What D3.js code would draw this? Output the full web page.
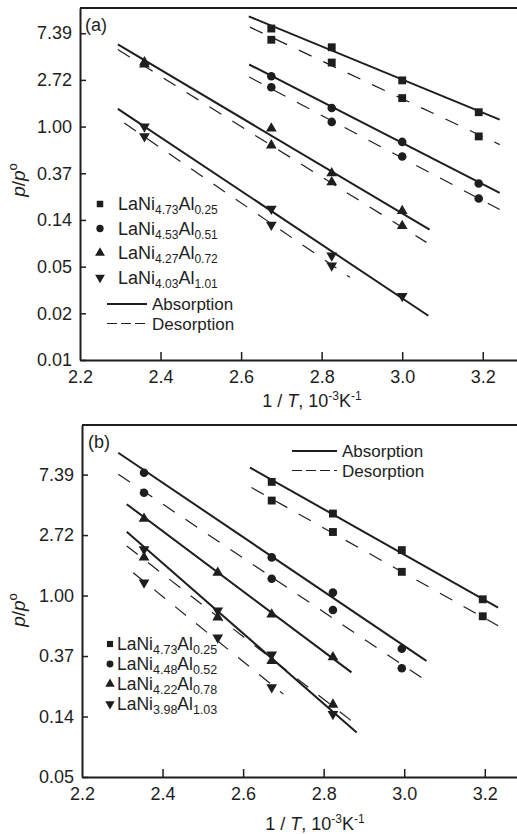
<!DOCTYPE html>
<html>
<head>
<meta charset="utf-8">
<script src="https://cdn.jsdelivr.net/npm/d3@7"></script>
<style>
  body { margin: 0; background: #fff; }
  svg { display: block; font-family: "Liberation Sans", Arial, sans-serif; }
</style>
</head>
<body>
<svg id="chart" width="517" height="834"></svg>
<script>
// tick positions: y ticks sit at e^k, labelled with rounded values
const yTickPowers = [2, 1, 0, -1, -2, -3, -4, -5];
const yTickLabels = ["7.39", "2.72", "1.00", "0.37", "0.14", "0.05", "0.02", "0.01"];
const xTicks = [2.2, 2.4, 2.6, 2.8, 3.0, 3.2];

// panel (a): points are [1/T, p/p°]
const alloysA = ["LaNi4.73Al0.25", "LaNi4.53Al0.51", "LaNi4.27Al0.72", "LaNi4.03Al1.01"];
const absA = [
  [[2.675, 8.17], [2.825, 5.47], [3.0, 2.69], [3.19, 1.36]],
  [[2.675, 2.94], [2.825, 1.49], [3.0, 0.72], [3.19, 0.295]],
  [[2.36, 3.97], [2.675, 0.96], [2.825, 0.368], [3.0, 0.164]],
  [[2.36, 1.0], [2.675, 0.172], [2.825, 0.063], [3.0, 0.0265]]
];
const desA = [
  [[2.675, 6.42], [2.825, 3.94], [3.0, 1.84], [3.19, 0.81]],
  [[2.675, 2.32], [2.825, 1.105], [3.0, 0.527], [3.19, 0.214]],
  [[2.36, 3.78], [2.675, 0.67], [2.825, 0.304], [3.0, 0.119]],
  [[2.36, 0.81], [2.675, 0.122], [2.825, 0.051]]
];
// fitted lines: [x0, y0, x1, y1]
const absFitA = [
  [2.619, 10.6, 3.242, 1.16],
  [2.62, 3.78, 3.242, 0.242],
  [2.294, 5.81, 3.068, 0.110],
  [2.294, 1.46, 3.065, 0.0174]
];
const desFitA = [
  [2.622, 8.41, 3.242, 0.68],
  [2.62, 2.89, 3.242, 0.169],
  [2.294, 5.21, 3.06, 0.0837],
  [2.31, 1.08, 2.87, 0.0396]
];

// panel (b)
const alloysB = ["LaNi4.73Al0.25", "LaNi4.48Al0.52", "LaNi4.22Al0.78", "LaNi3.98Al1.03"];
const absB = [
  [[2.671, 6.55], [2.823, 3.88], [2.994, 2.12], [3.195, 0.94]],
  [[2.354, 7.61], [2.671, 1.88], [2.823, 1.05], [2.994, 0.415]],
  [[2.354, 3.56], [2.537, 1.46], [2.671, 0.733], [2.823, 0.361]],
  [[2.354, 2.15], [2.537, 0.779], [2.671, 0.377], [2.823, 0.141]]
];
const desB = [
  [[2.671, 4.81], [2.823, 2.86], [2.994, 1.48], [3.195, 0.71]],
  [[2.354, 5.47], [2.671, 1.32], [2.823, 0.787], [2.994, 0.301]],
  [[2.354, 1.88], [2.537, 0.698], [2.671, 0.34], [2.823, 0.165]],
  [[2.354, 1.24], [2.537, 0.50], [2.671, 0.219]]
];
const absFitB = [
  [2.617, 8.30, 3.233, 0.82],
  [2.290, 10.6, 3.055, 0.34],
  [2.311, 4.53, 2.869, 0.281],
  [2.311, 2.87, 2.882, 0.104]
];
const desFitB = [
  [2.621, 5.96, 3.233, 0.607],
  [2.290, 7.43, 3.055, 0.244],
  [2.311, 2.27, 2.869, 0.126],
  [2.327, 1.46, 2.700, 0.196]
];

const ink = "#1e1e1e";
const shapes = [d3.symbolSquare, d3.symbolCircle, d3.symbolTriangle, d3.symbolTriangle];
const turns = [0, 0, 0, 180];
const svg = d3.select("#chart");

function formula(sel, name, big, small) {
  // split "LaNi4.73Al0.25" into element names and subscripts
  const m = name.match(/^LaNi([\d.]+)Al([\d.]+)$/);
  sel.append("tspan").attr("font-size", big).text("LaNi");
  sel.append("tspan").attr("font-size", small).attr("dy", 4).text(m[1]);
  sel.append("tspan").attr("font-size", big).attr("dy", -4).text("Al");
  sel.append("tspan").attr("font-size", small).attr("dy", 4).text(m[2]);
}

function drawPanel(p) {
  const x = d3.scaleLinear().domain(p.xDomain).range([p.left, 517]);
  const y = d3.scaleLog().base(Math.E).domain(p.yDomain).range([p.bottom, p.top]);
  const g = svg.append("g");

  // axes with inward ticks
  const powers = yTickPowers.filter(k => Math.exp(k) >= p.yDomain[0] * 0.999);
  const yAxis = g.append("g")
    .attr("transform", `translate(${p.left},0)`)
    .call(d3.axisLeft(y)
      .tickValues(powers.map(k => Math.exp(k)))
      .tickFormat((d, i) => yTickLabels[i])
      .tickSizeInner(-6).tickSizeOuter(0).tickPadding(8));
  const xAxis = g.append("g")
    .attr("transform", `translate(0,${p.bottom})`)
    .call(d3.axisBottom(x)
      .tickValues(xTicks)
      .tickFormat(d3.format(".1f"))
      .tickSizeInner(-8).tickSizeOuter(0).tickPadding(10));
  [yAxis, xAxis].forEach(a => {
    a.select(".domain").attr("stroke", ink).attr("stroke-width", 2);
    a.selectAll(".tick line").attr("stroke", ink).attr("stroke-width", 1.5);
    a.selectAll(".tick text").attr("fill", ink).attr("font-size", 18)
      .attr("font-family", "Liberation Sans, Arial, sans-serif");
  });
  xAxis.selectAll(".tick").filter(d => d === 2.2).select("line").remove();
  g.append("line")
    .attr("x1", p.left).attr("x2", 517)
    .attr("y1", p.top).attr("y2", p.top)
    .attr("stroke", ink).attr("stroke-width", 2);

  // fitted lines
  const fit = (rows, dash, w) => g.append("g").selectAll("line")
    .data(rows).join("line")
    .attr("x1", d => x(d[0])).attr("y1", d => y(d[1]))
    .attr("x2", d => x(d[2])).attr("y2", d => y(d[3]))
    .attr("stroke", ink).attr("stroke-width", w)
    .attr("stroke-dasharray", dash);
  fit(p.absFit, null, 2);
  fit(p.desFit, "14,13", 1.2);

  // markers
  const sizes = [62, 58, 50, 50];
  [p.abs, p.des].forEach(group => {
    group.forEach((pts, i) => {
      g.append("g").selectAll("path")
        .data(pts).join("path")
        .attr("transform", d => `translate(${x(d[0])},${y(d[1])}) rotate(${turns[i]})`)
        .attr("d", d3.symbol().type(shapes[i]).size(sizes[i]))
        .attr("fill", ink);
    });
  });

  // panel tag
  g.append("text").attr("x", p.tag[1]).attr("y", p.tag[2])
    .attr("font-size", 18).attr("fill", ink).text(p.tag[0]);

  // alloy legend
  const lg = p.legend;
  p.alloys.forEach((name, i) => {
    const cy = lg.y0 + i * lg.step;
    g.append("path")
      .attr("transform", `translate(${lg.mx},${cy}) rotate(${turns[i]})`)
      .attr("d", d3.symbol().type(shapes[i]).size(lg.msize))
      .attr("fill", ink);
    g.append("text").attr("x", lg.tx).attr("y", cy + 6).attr("fill", ink)
      .call(formula, name, lg.big, lg.small);
  });

  // line-style legend
  const ls = p.lines;
  [["Absorption", null, 1.8], ["Desorption", "10,4", 1.2]].forEach((row, i) => {
    const cy = ls.y0 + i * ls.step;
    g.append("line")
      .attr("x1", ls.x0).attr("x2", ls.x1).attr("y1", cy).attr("y2", cy)
      .attr("stroke", ink).attr("stroke-width", row[2])
      .attr("stroke-dasharray", row[1]);
    g.append("text").attr("x", ls.x1 + 5).attr("y", cy + 6)
      .attr("font-size", 17).attr("fill", ink).text(row[0]);
  });

  // axis titles
  const xt = g.append("text").attr("x", p.xTitle[0]).attr("y", p.xTitle[1])
    .attr("text-anchor", "middle").attr("font-size", 18).attr("fill", ink);
  xt.append("tspan").text("1 / ");
  xt.append("tspan").attr("font-style", "italic").text("T");
  xt.append("tspan").text(", 10");
  xt.append("tspan").attr("font-size", 12).attr("dy", -7).text("-3");
  xt.append("tspan").attr("dy", 7).text("K");
  xt.append("tspan").attr("font-size", 12).attr("dy", -7).text("-1");

  const yt = g.append("text")
    .attr("transform", `translate(${p.yTitle[0]},${p.yTitle[1]}) rotate(-90)`)
    .attr("text-anchor", "middle").attr("font-size", 19).attr("fill", ink);
  yt.append("tspan").attr("font-style", "italic").text("p");
  yt.append("tspan").text("/");
  yt.append("tspan").attr("font-style", "italic").text("p");
  yt.append("tspan").attr("font-size", 13).attr("dy", -8).text("o");
}

drawPanel({
  left: 80, top: 8, bottom: 360,
  xDomain: [2.2, 3.285], yDomain: [Math.exp(-5), Math.exp(2.54)],
  abs: absA, des: desA, absFit: absFitA, desFit: desFitA,
  alloys: alloysA, tag: ["(a)", 85, 31],
  legend: { mx: 100, tx: 118, y0: 204, step: 24.5, msize: 42, big: 18, small: 12 },
  lines: { x0: 107, x1: 147, y0: 304, step: 19.5 },
  xTitle: [312, 407], yTitle: [25, 180]
});

drawPanel({
  left: 82, top: 425, bottom: 777,
  xDomain: [2.2, 3.28], yDomain: [Math.exp(-3), Math.exp(2.82)],
  abs: absB, des: desB, absFit: absFitB, desFit: desFitB,
  alloys: alloysB, tag: ["(b)", 88, 448],
  legend: { mx: 110, tx: 117, y0: 644, step: 20, msize: 38, big: 17.5, small: 12.5 },
  lines: { x0: 292, x1: 337, y0: 451, step: 19.5 },
  xTitle: [315, 830], yTitle: [25, 610]
});
</script>
</body>
</html>
